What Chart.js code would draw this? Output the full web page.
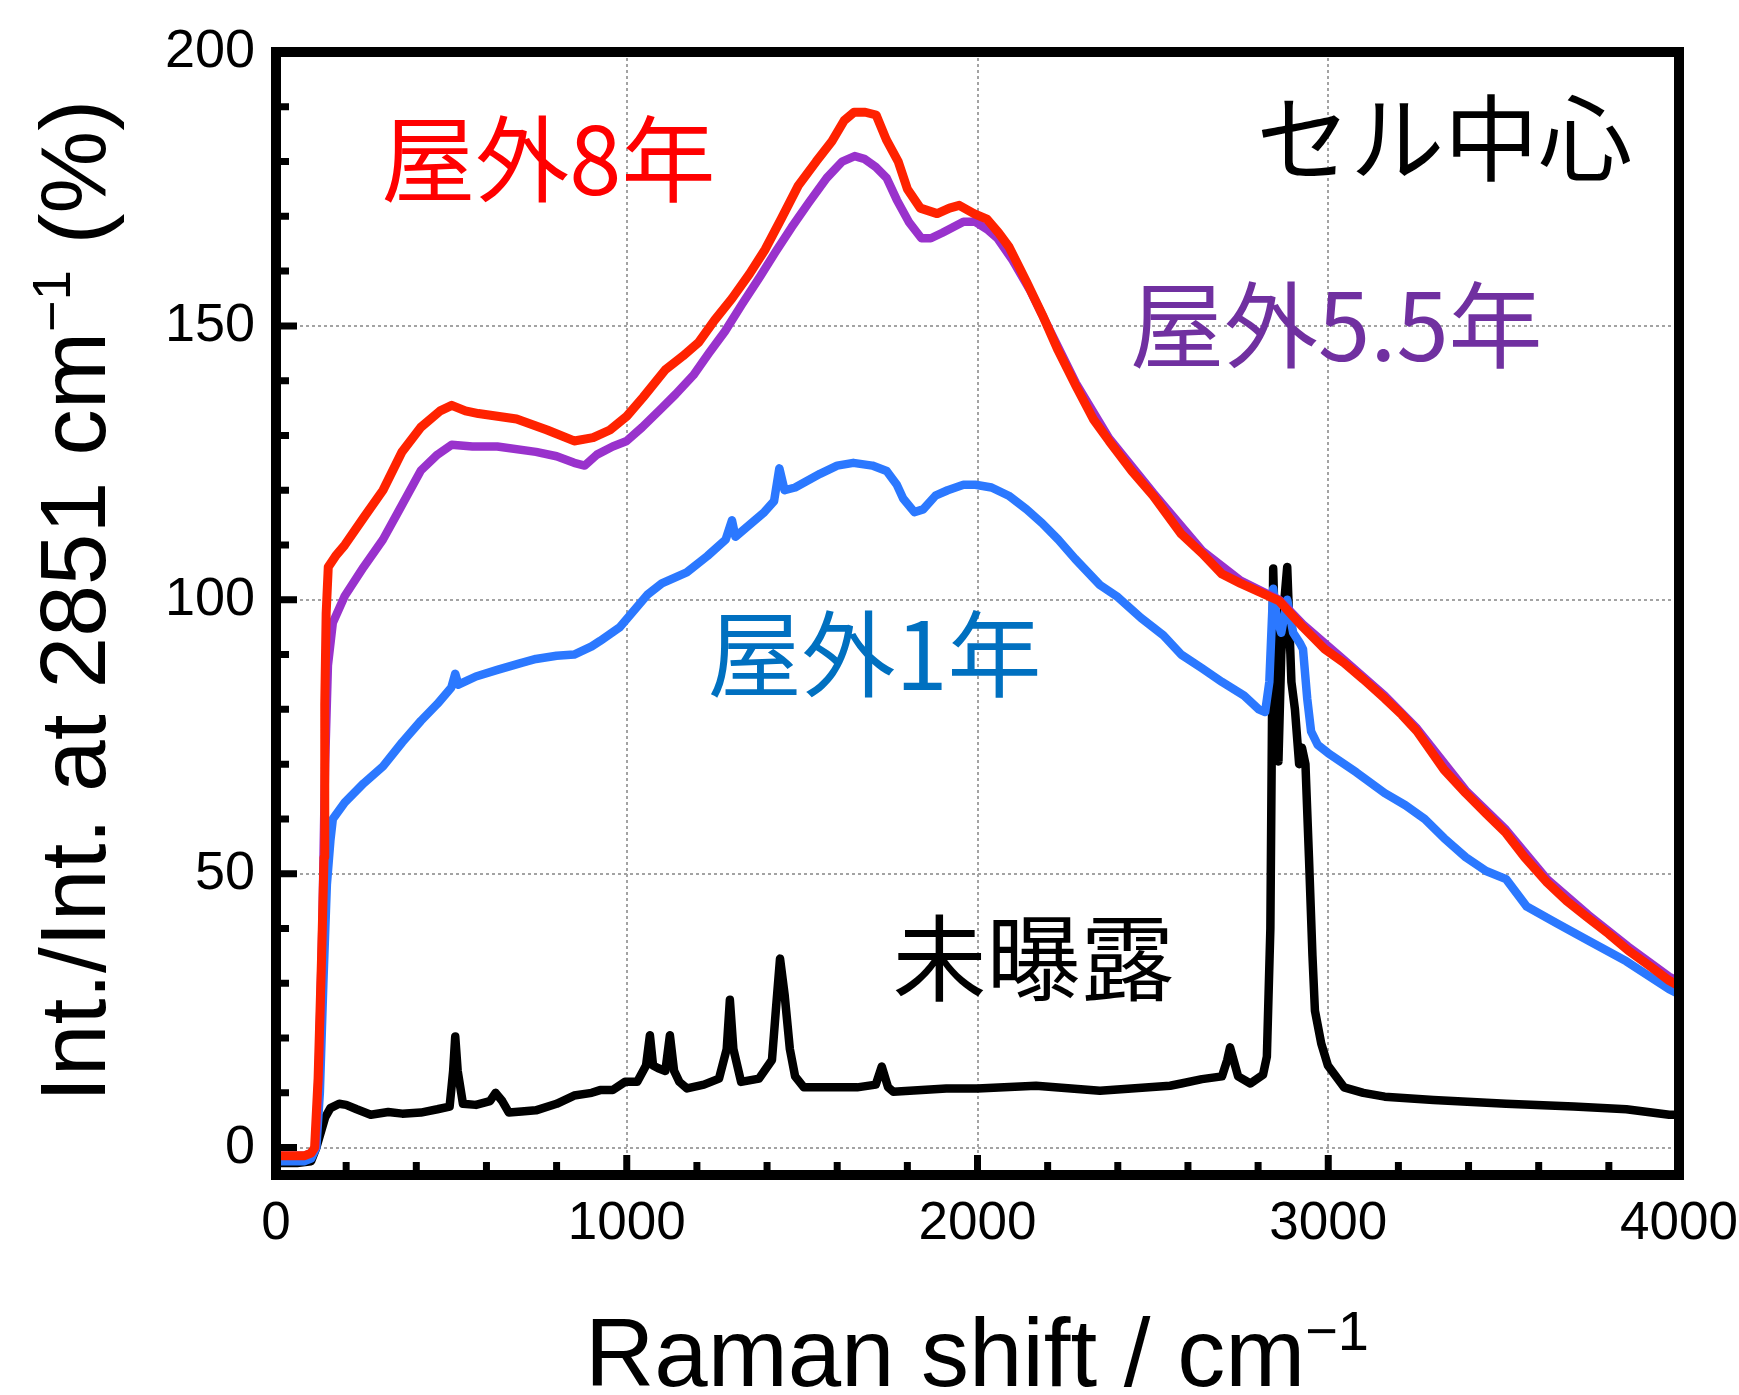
<!DOCTYPE html>
<html>
<head>
<meta charset="utf-8">
<script src="https://cdn.jsdelivr.net/npm/chart.js@4.4.1/dist/chart.umd.min.js"></script>
<style>
  html, body { margin: 0; padding: 0; background: #fff; }
  #wrap { width: 1739px; height: 1395px; }
</style>
</head>
<body>
<div id="wrap"><canvas id="chart" width="1739" height="1395"></canvas></div>
<script>
'use strict';

// ── Axis ticks ─────────────────────────────────────
const xTicks = [0, 1000, 2000, 3000, 4000];
const yTicks = [0, 50, 100, 150, 200];
const xMinor = [200, 400, 600, 800, 1200, 1400, 1600, 1800, 2200, 2400, 2600, 2800, 3200, 3400, 3600, 3800];
const yMinor = [10, 20, 30, 40, 60, 70, 80, 90, 110, 120, 130, 140, 160, 170, 180, 190];

// ── Spectra (Raman shift cm-1 / normalised intensity %) ──
const outdoor8X = [0, 80, 100, 110, 120, 130, 137, 139, 143, 149, 170, 196, 250, 305, 359, 413, 468, 501, 540, 577, 686, 773, 850, 904, 952, 1000, 1047, 1110, 1160, 1205, 1250, 1300, 1350, 1395, 1440, 1489, 1540, 1585, 1620, 1648, 1680, 1711, 1740, 1774, 1800, 1837, 1885, 1920, 1948, 1990, 2027, 2060, 2090, 2140, 2185, 2230, 2281, 2330, 2375, 2440, 2501, 2581, 2640, 2697, 2750, 2802, 2860, 2928, 2990, 3045, 3100, 3161, 3210, 3253, 3275, 3330, 3392, 3450, 3507, 3560, 3624, 3680, 3741, 3800, 3855, 3920, 3972, 4000];
const outdoor8Y = [-1.5, -1.5, -1, 0, 12.6, 35, 53, 81, 97.5, 106, 108, 110, 115, 120, 127, 131.5, 134.5, 135.5, 134.5, 134, 133, 131, 129, 129.6, 131, 133.5, 137, 142, 144.5, 147, 151, 155, 159.5, 164, 169.5, 175.6, 180, 183.7, 187.5, 189, 189, 188.5, 184, 180, 175, 171.5, 170.5, 171.5, 172, 170.5, 169.5, 167, 164.4, 158, 152, 145.5, 139, 133, 129, 123.5, 119, 112, 108.5, 104.7, 103, 101.5, 99.8, 95, 91, 88.5, 85.5, 82, 79, 76, 74, 69, 64.7, 61, 57.4, 53, 48.4, 45, 41.9, 39, 36, 33, 30.5, 29.5];

const outdoor55X = [0, 80, 100, 112, 122, 132, 140, 148, 162, 196, 250, 305, 348, 413, 460, 501, 560, 631, 741, 800, 850, 880, 915, 960, 1000, 1044, 1100, 1139, 1190, 1234, 1280, 1329, 1380, 1424, 1470, 1519, 1570, 1614, 1650, 1677, 1710, 1741, 1770, 1804, 1840, 1867, 1900, 1930, 1960, 1994, 2030, 2057, 2100, 2150, 2200, 2281, 2375, 2501, 2640, 2750, 2860, 2928, 3045, 3161, 3253, 3392, 3507, 3624, 3741, 3855, 3972, 4000];
const outdoor55Y = [-1.5, -1.5, -1, 0, 14, 40, 70, 88, 95.8, 100.7, 106, 111, 116, 123.6, 126.5, 128.3, 128, 128, 127, 126.2, 125, 124.5, 126.5, 128, 129, 131.5, 135, 137.5, 141, 145, 149, 154, 159, 163.5, 168, 172.5, 177, 180, 181, 180.5, 179, 177, 173, 169, 166, 166, 167, 168, 169, 169, 167.5, 166, 162, 156.5, 150, 139.5, 129.5, 119.5, 109, 103.5, 100, 95.5, 89, 82.5, 76.5, 65.2, 58, 49, 42.5, 36.7, 31.2, 30.3];

const outdoor1X = [0, 80, 100, 115, 125, 135, 145, 155, 162, 196, 250, 305, 360, 413, 460, 500, 511, 520, 570, 631, 700, 741, 800, 850, 900, 924, 980, 1020, 1060, 1100, 1171, 1230, 1282, 1300, 1310, 1392, 1420, 1435, 1450, 1480, 1551, 1600, 1646, 1700, 1741, 1770, 1788, 1820, 1845, 1880, 1915, 1960, 1994, 2040, 2089, 2140, 2184, 2230, 2278, 2349, 2400, 2466, 2530, 2581, 2640, 2697, 2760, 2802, 2820, 2832, 2843, 2852, 2866, 2883, 2900, 2920, 2928, 2940, 2951, 2970, 3000, 3080, 3161, 3220, 3275, 3330, 3392, 3450, 3507, 3566, 3650, 3741, 3850, 3972, 4000];
const outdoor1Y = [-2.5, -2.5, -2, 0, 10, 30, 48, 56, 60, 63, 66.5, 69.6, 74, 77.9, 81, 84, 86.5, 84.5, 86, 87.2, 88.5, 89.2, 89.8, 90, 91.5, 92.5, 95, 98, 101, 103, 105, 108, 111, 114.5, 111.5, 116, 118, 124, 120, 120.5, 123, 124.5, 125, 124.5, 123.5, 121, 118.5, 116, 116.5, 119, 120, 121, 121, 120.5, 119, 116.5, 114, 111, 107.5, 102.7, 100.5, 96.7, 93.5, 90, 87.5, 85, 82.5, 80, 79.5, 85, 102, 97, 94, 100, 94, 92, 91, 82, 76, 73.5, 72, 68.5, 64.7, 62.5, 60, 56.5, 53, 50.5, 49, 44, 41, 37.8, 34, 28.9, 28];

const unexposedX = [0, 60, 100, 115, 125, 140, 155, 180, 200, 230, 270, 320, 360, 413, 460, 495, 505, 511, 518, 533, 570, 610, 626, 645, 664, 700, 741, 800, 850, 900, 924, 960, 995, 1030, 1055, 1066, 1075, 1090, 1110, 1123, 1135, 1150, 1172, 1220, 1263, 1285, 1294, 1304, 1326, 1377, 1414, 1425, 1437, 1450, 1465, 1480, 1505, 1600, 1657, 1710, 1727, 1745, 1760, 1911, 2000, 2167, 2349, 2549, 2581, 2640, 2697, 2712, 2720, 2730, 2743, 2778, 2814, 2825, 2835, 2843, 2852, 2858, 2866, 2875, 2883, 2895, 2905, 2917, 2925, 2935, 2945, 2955, 2962, 2980, 2999, 3045, 3100, 3161, 3300, 3507, 3700, 3850, 3972, 4000];
const unexposedY = [-2.8, -2.8, -2.5, 0, 2.2, 5.5, 7.2, 8, 7.8, 7, 6, 6.5, 6.2, 6.4, 7, 7.5, 14, 20.3, 14, 8, 7.8, 8.5, 10, 8.5, 6.4, 6.6, 6.8, 8, 9.5, 10, 10.5, 10.5, 12, 12, 15, 20.5, 15, 14.5, 14, 20.5, 14, 12, 10.8, 11.5, 12.6, 18, 27, 18, 12, 12.6, 16, 25, 34.5, 28, 18, 13, 11, 11, 11, 11.5, 14.8, 11, 10.2, 10.8, 10.8, 11.3, 10.4, 11.3, 11.7, 12.5, 13, 16, 18.3, 16, 13, 11.7, 13.3, 16.6, 40, 105.7, 85, 70.5, 90, 100, 106, 85, 80, 70, 73, 70, 53, 35, 25, 19, 15, 11, 10, 9.3, 8.7, 8, 7.5, 7, 6, 6];

// ── Labels ─────────────────────────────────────────
const seriesNames = ['屋外8年', '屋外5.5年', '屋外1年', '未曝露'];
const xTitle = ['Raman shift / cm', '−1'];
const yTitle = ['Int./Int. at 2851 cm', '−1', ' (%)'];

// Text annotations anchored in data units (left edge, vertical middle)
const notes = [
    { text: '屋外8年',   x: 300,  y: 180.5, color: '#ff0000' },
    { text: 'セル中心',  x: 2795, y: 184.3, color: '#000000' },
    { text: '屋外5.5年', x: 2435, y: 150.2, color: '#7030a0' },
    { text: '屋外1年',   x: 1230, y: 90,    color: '#0070c0' },
    { text: '未曝露',    x: 1758, y: 34.6,  color: '#000000' },
];

const LATIN = '"Liberation Sans", Arial, Helvetica, sans-serif';
const CJK   = '"Noto Sans CJK JP", "Noto Sans", sans-serif';
const GRID  = '#a3a3a3';

const zip = (xs, ys) => xs.map((x, i) => ({ x, y: ys[i] }));

// ── Frame, inner ticks, titles and notes ─────────────
function drawRich(ctx, parts, size) {
    // parts: [text, isSuperscript], centred on the current origin
    const fontFor = sup => (sup ? Math.round(size * 0.58) : size) + 'px ' + LATIN;
    let w = 0;
    parts.forEach(([t, sup]) => { ctx.font = fontFor(sup); w += ctx.measureText(t).width; });
    let cx = -w / 2;
    parts.forEach(([t, sup]) => {
        ctx.font = fontFor(sup);
        ctx.fillText(t, cx, sup ? -size * 0.38 : 0);
        cx += ctx.measureText(t).width;
    });
}

const framePlugin = {
    id: 'frame',
    afterDraw(chart) {
        const { ctx, chartArea: a, scales: { x, y } } = chart;
        ctx.save();
        ctx.strokeStyle = '#000';
        ctx.lineCap = 'butt';

        // inner ticks on bottom and left axes
        ctx.lineWidth = 7;
        ctx.beginPath();
        xMinor.forEach(v => { const px = x.getPixelForValue(v); ctx.moveTo(px, a.bottom); ctx.lineTo(px, a.bottom - 13); });
        xTicks.forEach(v => { const px = x.getPixelForValue(v); ctx.moveTo(px, a.bottom); ctx.lineTo(px, a.bottom - 20); });
        yMinor.forEach(v => { const py = y.getPixelForValue(v); ctx.moveTo(a.left, py); ctx.lineTo(a.left + 13, py); });
        yTicks.forEach(v => { const py = y.getPixelForValue(v); ctx.moveTo(a.left, py); ctx.lineTo(a.left + 21, py); });
        ctx.stroke();

        // heavy box
        ctx.lineWidth = 10;
        ctx.lineJoin = 'miter';
        ctx.strokeRect(a.left, a.top, a.right - a.left, a.bottom - a.top);

        // axis titles
        ctx.fillStyle = '#000';
        ctx.textAlign = 'left';
        ctx.textBaseline = 'alphabetic';
        ctx.save();
        ctx.translate(977, 1386);
        drawRich(ctx, [[xTitle[0], false], [xTitle[1], true]], 96);
        ctx.restore();

        ctx.save();
        ctx.translate(105, 601);
        ctx.rotate(-Math.PI / 2);
        drawRich(ctx, [[yTitle[0], false], [yTitle[1], true], [yTitle[2], false]], 93);
        ctx.restore();

        // series notes
        ctx.textBaseline = 'middle';
        ctx.font = '94px ' + CJK;
        notes.forEach(n => {
            ctx.fillStyle = n.color;
            ctx.fillText(n.text, x.getPixelForValue(n.x), y.getPixelForValue(n.y));
        });
        ctx.restore();
    }
};

new Chart(document.getElementById('chart'), {
    type: 'line',
    data: {
        datasets: [
            { label: seriesNames[0], data: zip(outdoor8X, outdoor8Y),   borderColor: '#ff2200', borderWidth: 9 },
            { label: seriesNames[1], data: zip(outdoor55X, outdoor55Y), borderColor: '#9932cc', borderWidth: 8.5 },
            { label: seriesNames[2], data: zip(outdoor1X, outdoor1Y),   borderColor: '#2b78ff', borderWidth: 8.5 },
            { label: seriesNames[3], data: zip(unexposedX, unexposedY), borderColor: '#000000', borderWidth: 8.5 },
        ],
    },
    options: {
        responsive: false,
        devicePixelRatio: 1,
        animation: false,
        layout: { padding: { left: 0, top: 52, right: 60, bottom: 0 } },
        plugins: { legend: { display: false }, tooltip: { enabled: false } },
        elements: {
            point: { radius: 0 },
            line: { tension: 0, borderJoinStyle: 'round', borderCapStyle: 'round', fill: false },
        },
        scales: {
            x: {
                type: 'linear', min: 0, max: 4000,
                afterBuildTicks: s => { s.ticks = xTicks.map(v => ({ value: v })); },
                afterFit: s => { s.height = 220; s.paddingLeft = 0; s.paddingRight = 0; },
                grid: { drawTicks: false, tickLength: 0, color: GRID, lineWidth: 2 },
                border: { display: false, dash: [3, 3] },
                ticks: {
                    color: '#000', font: { family: LATIN, size: 53 }, padding: 18,
                    maxRotation: 0, autoSkip: false, callback: v => String(v),
                },
            },
            y: {
                type: 'linear', min: -5, max: 200,
                afterBuildTicks: s => { s.ticks = yTicks.map(v => ({ value: v })); },
                afterFit: s => { s.width = 276; s.paddingTop = 0; s.paddingBottom = 0; },
                grid: { drawTicks: false, tickLength: 0, color: GRID, lineWidth: 2 },
                border: { display: false, dash: [3, 3] },
                ticks: {
                    color: '#000', font: { family: LATIN, size: 54 }, padding: 21,
                    autoSkip: false, callback: v => String(v),
                },
            },
        },
    },
    plugins: [framePlugin],
});
</script>
</body>
</html>
